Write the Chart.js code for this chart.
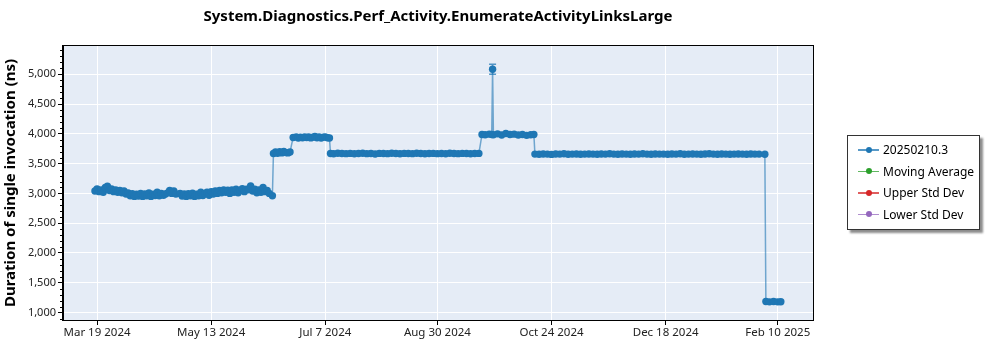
<!DOCTYPE html>
<html><head><meta charset="utf-8">
<script src="https://cdn.jsdelivr.net/npm/chart.js@4.4.1/dist/chart.umd.min.js"></script>
<style>
html,body{margin:0;padding:0;background:#fff;}
#wrap{position:relative;width:1000px;height:350px;}
#c{position:absolute;left:0;top:0;}
#legend{position:absolute;left:847px;top:135px;width:131px;height:90px;border:1px solid #333;background:#fff;
  box-shadow:3px 3px 2px rgba(0,0,0,0.45);font-family:"Noto Sans",sans-serif;font-size:12px;color:#000;padding-top:3px;}
.row{position:relative;height:21.5px;line-height:21.5px;}
.ln{position:absolute;left:10px;top:10px;width:21px;height:1.5px;}
.dt{position:absolute;left:17.5px;top:7.75px;width:6px;height:6px;border-radius:50%;}
.tx{position:absolute;left:35px;top:0;white-space:nowrap;}
</style></head>
<body><div id="wrap"><canvas id="c" width="1000" height="350"></canvas><div id="legend"></div></div>
<script>
const chartTitle = 'System.Diagnostics.Perf_Activity.EnumerateActivityLinksLarge';
const yAxisTitle = 'Duration of single invocation (ns)';
const startDate = '2024-03-19';
const tickDates = ['2024-03-19','2024-05-13','2024-07-07','2024-08-30','2024-10-24','2024-12-18','2025-02-10'];
const tickLabels = ['Mar 19 2024','May 13 2024','Jul 7 2024','Aug 30 2024','Oct 24 2024','Dec 18 2024','Feb 10 2025'];
const yTickValues = [1000,1500,2000,2500,3000,3500,4000,4500,5000];
const seriesNames = ['20250210.3','Moving Average','Upper Std Dev','Lower Std Dev'];
const seriesColors = ['#1f77b4','#2ca02c','#d62728','#9467bd'];

// day offsets from startDate
const dayOffsets = [
 -1,0,1,2,3,4,5,6,7,8,9,10,11,12,13,14,15,16,17,18,19,20,21,22,23,24,25,26,27,28,29,30,31,32,33,34,35,36,37,38,
 40,41,42,43,44,45,46,47,48,49,50,51,52,53,54,55,56,57,58,59,60,61,62,63,64,65,66,67,68,69,70,71,72,73,74,75,76,77,78,79,80,81,82,83,84.5,
 85,86,87,88,89,90,91,92,93,
 94.5,96,97,98,99,100,101,102,103,104,105,106,107,108,109,110,111,112,
 112.5,114,116,118,120,122,124,126,128,130,132,134,136,138,140,142,144,146,148,150,152,154,156,158,160,162,164,166,168,170,172,174,176,178,180,182,184,
 185.5,187,189,190.2,190.6,191,193,195,197,199,201,203,205,207,209,210.5,
 211,213,215,217,219,221,223,225,227,229,231,233,235,237,239,241,243,245,247,249,251,253,255,257,259,261,263,265,267,269,271,273,275,277,279,281,283,285,287,289,291,293,295,297,299,301,303,305,307,309,311,313,315,317,319,321.8,
 322.3,324,326,328,329.5
];
const durations = [
 3040,3075,3030,3060,3020,3100,3120,3050,3075,3030,3060,3020,3050,3010,3040,2990,3010,2960,2995,2950,2985,2955,3000,2950,2990,2960,3010,2950,2985,2965,3020,2960,3000,2970,2990,3010,3050,3000,3040,2990,
 3000,2955,2990,2950,2995,2960,3005,2950,2985,2960,3020,2965,3000,3020,2970,3030,2990,3040,3000,3050,3010,3060,3020,3055,3000,3060,3020,3070,3010,3050,3080,3030,3070,3060,3125,3040,3070,3010,3060,3020,3100,3030,3050,3000,2960,
 3670,3695,3675,3700,3680,3705,3685,3680,3695,
 3940,3950,3930,3945,3935,3948,3938,3950,3932,3945,3955,3935,3948,3930,3945,3950,3935,3930,
 3670,3665,3675,3670,3668,3672,3665,3670,3675,3668,3670,3662,3672,3670,3668,3675,3670,3665,3672,3670,3668,3675,3670,3665,3670,3672,3668,3670,3665,3675,3670,3668,3672,3670,3665,3670,3672,
 3990,3985,3995,3990,5084,3985,4000,3980,4005,3990,3995,3980,3990,3975,3985,3990,
 3660,3658,3662,3660,3655,3662,3660,3665,3658,3660,3662,3657,3660,3663,3660,3658,3662,3660,3665,3660,3658,3662,3660,3657,3662,3660,3665,3660,3658,3662,3660,3660,3657,3662,3660,3665,3658,3660,3662,3660,3658,3662,3665,3660,3658,3662,3660,3657,3660,3662,3660,3658,3662,3660,3660,3658,
 1185,1180,1185,1180,1182
];
const errorDays = [190.6];
const errorLow = [5000];
const errorHigh = [5168];

const DAY = 86400000;
const t0 = Date.parse(startDate);
const tickOffsets = tickDates.map(d => (Date.parse(d) - t0) / DAY);
const points = dayOffsets.map((d, i) => ({x: d, y: durations[i]}));

const FONT = '"Noto Sans", sans-serif';

const bgPlugin = {
  id: 'bg',
  beforeDraw(chart) {
    const a = chart.chartArea, ctx = chart.ctx;
    ctx.save(); ctx.fillStyle = '#e5ecf6';
    ctx.fillRect(a.left, a.top, a.right - a.left, a.bottom - a.top);
    ctx.restore();
  },
  afterDraw(chart) {
    const a = chart.chartArea, ctx = chart.ctx;
    ctx.save();
    ctx.strokeStyle = '#000'; ctx.lineWidth = 1;
    ctx.strokeRect(Math.round(a.left) - 0.5, Math.round(a.top) - 0.5, Math.round(a.right - a.left) + 1, Math.round(a.bottom - a.top) + 1);
    // minor y ticks
    const ys = chart.scales.y;
    ctx.beginPath();
    for (let v = 900; v <= 5400; v += 100) {
      if (v % 500 === 0 || v < ys.min || v > ys.max) continue;
      const py = Math.round(ys.getPixelForValue(v)) + 0.5;
      ctx.moveTo(a.left - 3, py); ctx.lineTo(a.left, py);
    }
    ctx.stroke();
    ctx.restore();
  }
};

const errPlugin = {
  id: 'err',
  afterDatasetsDraw(chart) {
    const xs = chart.scales.x, ys = chart.scales.y, ctx = chart.ctx;
    ctx.save();
    ctx.strokeStyle = 'rgba(31,119,180,0.75)'; ctx.lineWidth = 1.5;
    errorDays.forEach((d, i) => {
      const px = xs.getPixelForValue(d);
      const y1 = ys.getPixelForValue(errorLow[i]), y2 = ys.getPixelForValue(errorHigh[i]);
      ctx.beginPath();
      ctx.moveTo(px, y1); ctx.lineTo(px, y2);
      ctx.moveTo(px - 3.5, y1); ctx.lineTo(px + 3.5, y1);
      ctx.moveTo(px - 3.5, y2); ctx.lineTo(px + 3.5, y2);
      ctx.stroke();
    });
    ctx.restore();
  }
};

new Chart(document.getElementById('c'), {
  type: 'line',
  data: {
    datasets: [
      {label: seriesNames[0], data: points, borderColor: 'rgba(31,119,180,0.6)', borderWidth: 1.5,
       pointRadius: 3.7, pointBackgroundColor: seriesColors[0], pointBorderWidth: 0, tension: 0, fill: false},
      {label: seriesNames[1], data: [], borderColor: seriesColors[1]},
      {label: seriesNames[2], data: [], borderColor: seriesColors[2]},
      {label: seriesNames[3], data: [], borderColor: seriesColors[3]}
    ]
  },
  options: {
    responsive: false, devicePixelRatio: 1, animation: false,
    events: [],
    layout: {padding: {left: 0, right: 187, top: 0, bottom: 0}},
    plugins: {
      legend: {display: false},
      tooltip: {enabled: false},
      title: {display: true, text: chartTitle, fullSize: false, color: '#000',
              font: {family: FONT, size: 15, weight: 'bold'}, padding: {top: 8, bottom: 20}}
    },
    scales: {
      x: {
        type: 'linear', min: -16.4, max: 345,
        afterBuildTicks(s) { s.ticks = tickOffsets.map(v => ({value: v})); },
        afterFit(s) { s.height = 30; },
        ticks: {autoSkip: false, maxRotation: 0, padding: 1, color: '#222', font: {family: FONT, size: 11.5},
                callback: (v) => { const i = tickOffsets.indexOf(v); return i >= 0 ? tickLabels[i] : ''; }},
        grid: {color: '#ffffff', lineWidth: 1, tickColor: '#000', tickLength: 5},
        border: {display: true, color: '#000', width: 1}
      },
      y: {
        type: 'linear', min: 875, max: 5475,
        afterBuildTicks(s) { s.ticks = yTickValues.map(v => ({value: v})); },
        afterFit(s) { s.width = 63; },
        ticks: {padding: 2, color: '#222', font: {family: FONT, size: 11},
                callback: (v) => v.toLocaleString('en-US')},
        grid: {color: '#ffffff', lineWidth: 1, tickColor: '#000', tickLength: 5},
        border: {display: true, color: '#000', width: 1},
        title: {display: true, text: yAxisTitle, color: '#000', font: {family: FONT, size: 15, weight: 'bold'}, padding: {top: 2, bottom: 0}}
      }
    }
  },
  plugins: [bgPlugin, errPlugin]
});

// legend (HTML, built from series names / colors)
const lg = document.getElementById('legend');
seriesNames.forEach((n, i) => {
  const r = document.createElement('div'); r.className = 'row';
  const l = document.createElement('div'); l.className = 'ln'; l.style.background = seriesColors[i]; l.style.opacity = '0.75';
  const d = document.createElement('div'); d.className = 'dt'; d.style.background = seriesColors[i];
  const t = document.createElement('div'); t.className = 'tx'; t.textContent = n;
  r.appendChild(l); r.appendChild(d); r.appendChild(t); lg.appendChild(r);
});
</script></body></html>
